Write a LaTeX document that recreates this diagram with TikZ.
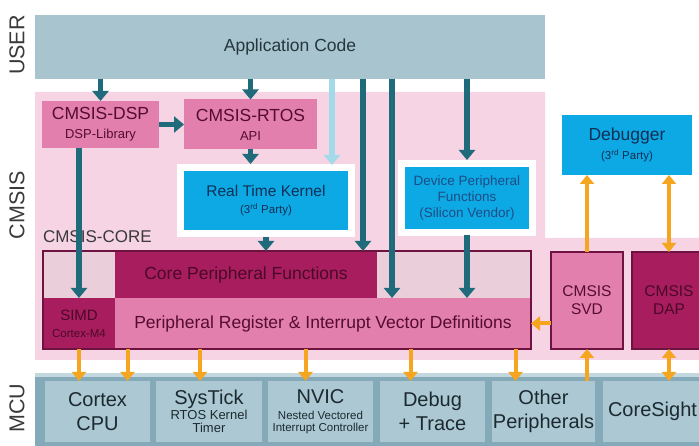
\documentclass[tikz,border=0pt]{standalone}
\usepackage{fontspec}
\setmainfont{Liberation Sans}
\usetikzlibrary{arrows.meta,positioning}

\definecolor{appgray}{HTML}{A8C4CE}
\definecolor{apptext}{HTML}{26363D}
\definecolor{cmsisbg}{HTML}{F6D4E3}
\definecolor{midpink}{HTML}{E27FAC}
\definecolor{darkpink}{HTML}{A81D5E}
\definecolor{palepink}{HTML}{EACFDB}
\definecolor{pinkline}{HTML}{6E1341}
\definecolor{pinktext}{HTML}{560C30}
\definecolor{deeptext}{HTML}{4A0928}
\definecolor{vendorblue}{HTML}{0DA9E4}
\definecolor{bluetext}{HTML}{0F2F55}
\definecolor{vendortext}{HTML}{1D4C86}
\definecolor{mcuedge}{HTML}{84A9B9}
\definecolor{mcutop}{HTML}{C3D7DF}
\definecolor{mcubox}{HTML}{ABC8D3}
\definecolor{mcutext}{HTML}{1C2A30}
\definecolor{tealarrow}{HTML}{1F6A7B}
\definecolor{lightarrow}{HTML}{A3DAEA}
\definecolor{debugorange}{HTML}{F5A51F}
\definecolor{labelgray}{HTML}{3A3A3A}

\newcommand{\subline}[1]{{\fontsize{13}{15}\selectfont #1}}
\newcommand{\tinyline}[1]{{\fontsize{11.5}{13}\selectfont #1}}

\tikzset{
  pinkbox/.style={fill=midpink, text=pinktext},
  deepbox/.style={fill=darkpink, text=deeptext},
  palebox/.style={fill=palepink},
  vendor/.style={fill=vendorblue, text=bluetext, preaction={draw=white, line width=14pt}},
  mcublock/.style={fill=mcubox, text=mcutext, font=\fontsize{20}{24}\selectfont, minimum width=105pt, minimum height=61pt},
  side/.style={rotate=90, text=labelgray, font=\fontsize{21.5}{24}\selectfont},
  big/.style={font=\fontsize{17.5}{19}\selectfont},
  flow/.style={draw=tealarrow, line width=5.5pt, -{Triangle[width=16pt,length=10pt]}},
  lightflow/.style={draw=lightarrow, line width=5.5pt, -{Triangle[width=16pt,length=10pt]}},
  dbgflow/.style={draw=debugorange, line width=4pt, -{Triangle[width=14pt,length=9pt]}},
  dbgboth/.style={dbgflow, {Triangle[width=14pt,length=9pt]}-{Triangle[width=14pt,length=9pt]}}
}

\begin{document}
\begin{tikzpicture}[x=1pt, y=-1pt, every node/.style={inner sep=0pt, outer sep=0pt, align=center}]
    \clip (0,0) rectangle (699,446);
    % Layers
    \fill[cmsisbg] (35,92) -- (545,92) -- (545,238) -- (699,238) -- (699,360) -- (35,360) -- cycle;
    \fill[mcuedge] (35,373) rectangle (699,446);
    \fill[mcutop] (35,373) rectangle (699,377);

    % Nodes
    \node[side] (user) at (17,45) {USER} ; %
    \node[side] (cmsis) at (17,205) {CMSIS} ; %
    \node[side] (mcu) at (17,408) {MCU} ; %
    \node[fill=appgray, text=apptext, big, minimum width=510pt, minimum height=64pt] (app) at (290,47) {Application Code} ; %
    \node[pinkbox, big, minimum width=117pt, minimum height=47pt] (dsp) at (100.5,124.5) {CMSIS-DSP\\\subline{DSP-Library}} ; %
    \node[pinkbox, big, minimum width=133pt, minimum height=50pt, right=25pt of dsp] (rtos) {CMSIS-RTOS\\\subline{API}} ; %
    \node[vendor, font=\fontsize{15.5}{17}\selectfont, minimum width=164pt, minimum height=59pt] (rtk) at (266,200.5) {Real Time Kernel\\\tinyline{(3\textsuperscript{rd} Party)}} ; %
    \node[vendor, text=vendortext, font=\fontsize{13.5}{16}\selectfont, minimum width=124pt, minimum height=62pt] (dev) at (467,198) {Device Peripheral\\Functions\\(Silicon Vendor)} ; %
    \node[fill=vendorblue, text=bluetext, big, minimum width=130pt, minimum height=60pt] (dbg) at (627,145) {Debugger\\\tinyline{(3\textsuperscript{rd} Party)}} ; %
    \node[anchor=west, text=labelgray, font=\fontsize{17}{19}\selectfont] (corelabel) at (43,237) {CMSIS-CORE} ; %
    \node[palebox, minimum width=72pt, minimum height=47pt] (tl) at (79,274.5) {} ; %
    \node[deepbox, big, minimum width=262pt, minimum height=47pt, right=0pt of tl] (cpf) {Core Peripheral Functions} ; %
    \node[palebox, minimum width=154pt, minimum height=47pt, right=0pt of cpf] (tr) {} ; %
    \node[deepbox, font=\fontsize{15}{17}\selectfont, minimum width=72pt, minimum height=51pt, below=0pt of tl] (simd) {SIMD\\\tinyline{Cortex-M4}} ; %
    \node[pinkbox, big, minimum width=416pt, minimum height=51pt, right=0pt of simd] (preg) {Peripheral Register \& Interrupt Vector Definitions} ; %
    \draw[pinkline, line width=1.5pt] (tl.north west) rectangle (preg.south east) ; %
    \node[pinkbox, draw=pinkline, line width=1.5pt, font=\fontsize{15.5}{18}\selectfont, minimum width=72pt, minimum height=97pt] (svd) at (587,300.5) {CMSIS\\SVD} ; %
    \node[deepbox, draw=pinkline, line width=1.5pt, font=\fontsize{15.5}{18}\selectfont, minimum width=74pt, minimum height=97pt] (dap) at (669,300.5) {CMSIS\\DAP} ; %
    \node[mcublock] (cpu) at (97.5,411.5) {Cortex\\CPU} ; %
    \node[mcublock, minimum width=106pt] (systick) at (209,411.5) {SysTick\\[-9pt]\subline{RTOS Kernel}\\[-11pt]\subline{Timer}} ; %
    \node[mcublock] (nvic) at (320.5,411.5) {NVIC\\[-8pt]\tinyline{Nested Vectored}\\[-12pt]\tinyline{Interrupt Controller}} ; %
    \node[mcublock] (trace) at (432.5,411.5) {Debug\\+ Trace} ; %
    \node[mcublock, minimum width=103pt] (other) at (543.5,411.5) {Other\\Peripherals} ; %
    \node[mcublock, minimum width=99pt] (cs) at (652.5,411.5) {CoreSight} ; %

    % Edges
    \draw[flow] (dsp.north |- app.south) -- (dsp.north) ; %
    \draw[flow] (rtos.north |- app.south) -- (rtos.north) ; %
    \draw[flow] (dsp) -- (rtos) ; %
    \draw[flow, shorten >=7pt] (rtos.south) -- (rtos.south |- rtk.north) ; %
    \coordinate (rtkgate) at (332,165) ; %
    \draw[lightflow] (rtkgate |- app.south) -- (rtkgate) ; %
    \draw[flow] ([xshift=-14pt]tr.north west |- app.south) -- ([xshift=-14pt]tr.north west) ; %
    \draw[flow] ([xshift=15pt]tr.south west |- app.south) -- ([xshift=15pt]tr.south west) ; %
    \draw[flow, shorten >=7pt] (dev.north |- app.south) -- (dev.north) ; %
    \draw[flow, shorten <=7pt] (rtk.south) -- (rtk.south |- cpf.north) ; %
    \draw[flow, shorten <=6pt] (dev.south) -- (dev.south |- preg.north) ; %
    \draw[flow] (dsp.south -| simd.north) -- (simd.north) ; %
    \draw[dbgflow] (svd.north) -- (svd.north |- dbg.south) ; %
    \draw[dbgboth] (dap.north) -- (dap.north |- dbg.south) ; %
    \draw[dbgflow] (svd.west |- preg.east) -- (preg.east) ; %
    \draw[dbgflow] (simd.south) -- (simd.south |- cpu.north) ; %
    \draw[dbgflow] ([xshift=30pt]cpu.north |- preg.south) -- ([xshift=30pt]cpu.north) ; %
    \draw[dbgflow] ([xshift=-9pt]systick.north |- preg.south) -- ([xshift=-9pt]systick.north) ; %
    \draw[dbgflow] ([xshift=-15pt]nvic.north |- preg.south) -- ([xshift=-15pt]nvic.north) ; %
    \draw[dbgflow] ([xshift=-22pt]trace.north |- preg.south) -- ([xshift=-22pt]trace.north) ; %
    \draw[dbgflow] ([xshift=-28pt]other.north |- preg.south) -- ([xshift=-28pt]other.north) ; %
    \draw[dbgflow] (svd.south |- other.north) -- (svd.south) ; %
    \draw[dbgboth] (dap.south) -- (dap.south |- cs.north) ; %
\end{tikzpicture}
\end{document}
